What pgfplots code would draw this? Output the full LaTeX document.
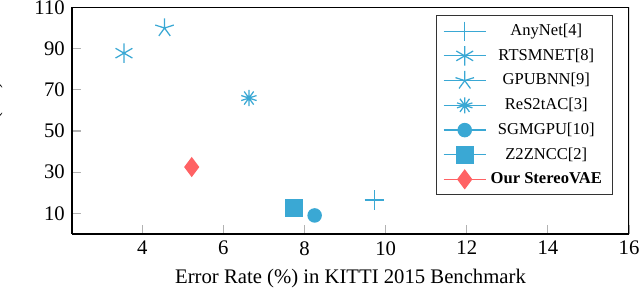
\documentclass[border=0pt]{standalone}
\usepackage{pgfplots}
\pgfplotsset{compat=1.18}
\usepackage{fontspec}
\setmainfont{Liberation Serif}
\usetikzlibrary{calc}
\definecolor{cb}{RGB}{58,168,212}
\definecolor{cr}{RGB}{255,98,100}
\begin{document}
\begin{tikzpicture}
\begin{axis}[name=ax,
  scale only axis, width=269pt, height=109.4pt,
  xmin=2.27, xmax=16, ymin=0, ymax=110,
  xtick={4,6,...,16}, ytick={10,30,...,110},
  /pgf/number format/assume math mode=true,
  tick style={gray!60, line width=0.5pt},
  axis line style={line width=0.8pt},
  axis x line*=bottom, axis y line*=left,
  xlabel={Error Rate (\%) in KITTI 2015 Benchmark},
  ylabel={FPS (Hz)},
  ylabel style={yshift=8.5pt},
  every axis plot/.append style={line width=0.6pt},
  legend style={font=\footnotesize, at={(0.971,0.967)}, anchor=north east, draw=black!80, line width=0.6pt, row sep=0.9pt},
  legend image code/.code={\draw[mark repeat=2,mark phase=2] plot coordinates {(0cm,0cm) (0.36cm,0cm) (0.72cm,0cm)};},
  legend cell align=center,
]
\draw[line width=0.8pt] (rel axis cs:0,1) -- (rel axis cs:1,1) -- (rel axis cs:1,0);
\addplot[color=cb, mark=+, mark size=4.6pt] coordinates {(9.72,16.5)};
\addlegendentry{AnyNet[4]}
\addplot[color=cb, mark=asterisk, mark size=4.7pt] coordinates {(3.55,87.8)};
\addlegendentry{RTSMNET[8]}
\addplot[color=cb, mark=star, mark size=4.7pt] coordinates {(4.55,100)};
\addlegendentry{GPUBNN[9]}
\addplot[color=cb, mark=10-pointed star, mark size=3.9pt] coordinates {(6.63,66)};
\addlegendentry{ReS2tAC[3]}
\addplot[color=cb, mark=*, mark size=3.2pt] coordinates {(8.25,9)};
\addlegendentry{SGMGPU[10]}
\addplot[color=cb, mark=square*, mark size=4pt] coordinates {(7.74,12.8)};
\addlegendentry{Z2ZNCC[2]}
\addplot[color=cr, mark=diamond*, mark size=4.4pt] coordinates {(5.22,32.5)};
\addlegendentry{\textbf{Our StereoVAE}}
\end{axis}
\pgfresetboundingbox
\path[use as bounding box] ($(ax.south west)+(-34.8pt,-31.4pt)$) rectangle ($(ax.north east)+(5.3pt,3.6pt)$);
\end{tikzpicture}
\end{document}
